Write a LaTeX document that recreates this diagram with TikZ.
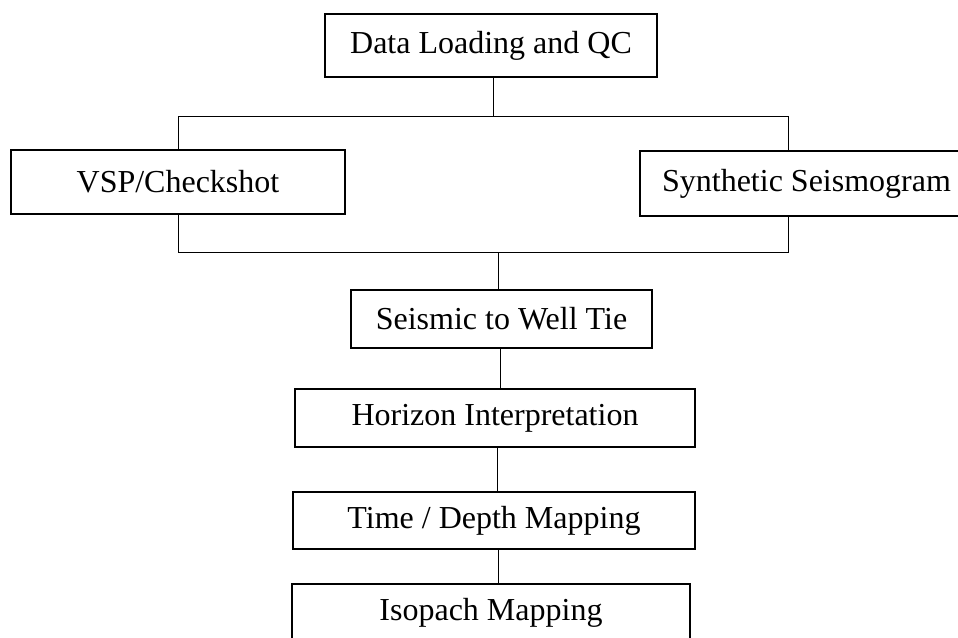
\documentclass[tikz,border=0pt]{standalone}
\usepackage{fontspec}
\setmainfont{Liberation Serif}
\begin{document}
\begin{tikzpicture}[x=0.75pt,y=-0.75pt]
\tikzset{
  box/.style={draw=black, line width=1.1pt, inner sep=0pt, anchor=center,
    font=\fontsize{24}{28}\selectfont},
  link/.style={draw=black, line width=0.75pt}
}
\useasboundingbox (0,0) rectangle (958,637);
\node[box, minimum width=249pt, minimum height=47.25pt] (data) at (491,45.5) {Data Loading and QC};
\node[box, minimum width=250.5pt, minimum height=48pt] (vsp) at (178,182) {VSP/Checkshot};
\node[box, minimum width=249.75pt, minimum height=48.75pt] (syn) at (806.5,183.5) {Synthetic Seismogram};
\node[box, minimum width=225.75pt, minimum height=43.5pt] (tie) at (501.5,319) {Seismic to Well Tie};
\node[box, minimum width=300pt, minimum height=43.5pt] (hor) at (495,418) {Horizon Interpretation};
\node[box, minimum width=301.5pt, minimum height=42.75pt] (tdm) at (494,520.5) {Time / Depth Mapping};
\node[box, minimum width=298.5pt, minimum height=43.5pt] (iso) at (491,613) {Isopach Mapping};

\coordinate (tb) at (493,116);
\coordinate (bb) at (498,252);
\coordinate (rx) at (788,0);
\coordinate (c1) at (500,0);
\coordinate (c2) at (497,0);
\coordinate (c3) at (498,0);

\draw[link] (data.south -| tb) -- (tb);
\draw[link] (vsp.north) -- (vsp.north |- tb) -- (rx |- tb) -- (syn.north -| rx);
\draw[link] (vsp.south) -- (vsp.south |- bb) -- (rx |- bb) -- (syn.south -| rx);
\draw[link] (bb) -- (tie.north -| bb);
\draw[link] (tie.south -| c1) -- (hor.north -| c1);
\draw[link] (hor.south -| c2) -- (tdm.north -| c2);
\draw[link] (tdm.south -| c3) -- (iso.north -| c3);
\end{tikzpicture}
\end{document}
